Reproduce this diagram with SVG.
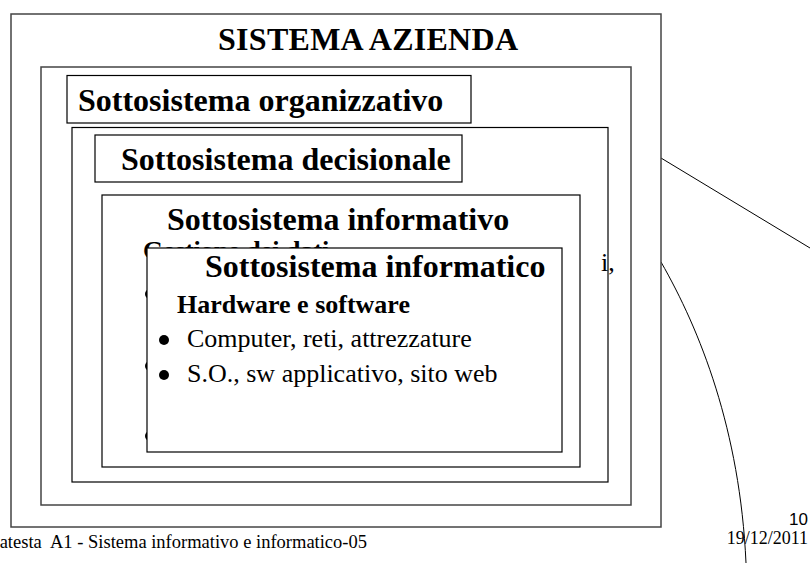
<svg xmlns="http://www.w3.org/2000/svg" width="810" height="563" viewBox="0 0 810 563">
<style>
.frame{fill:#fff;stroke:#444;stroke-width:1.5}
.box{fill:#fff;stroke:#000;stroke-width:1.2}
.h{font-family:"Liberation Serif",serif;font-weight:bold;font-size:32px;fill:#000}
.sub{font-family:"Liberation Serif",serif;font-weight:bold;font-size:26px;fill:#000}
.t{font-family:"Liberation Serif",serif;font-size:26px;fill:#000}
.foot{font-family:"Liberation Serif",serif;font-size:18.5px;fill:#000}
.date{font-family:"Liberation Serif",serif;font-size:18px;fill:#000}
.num{font-family:"Liberation Sans",sans-serif;font-size:17px;fill:#000}
.conn{fill:none;stroke:#000;stroke-width:1}
</style>
<rect width="810" height="563" fill="#fff"/>
<g id="connectors">
<line class="conn" x1="661" y1="158" x2="810" y2="248"/>
<path class="conn" d="M661,262 C700,330 740,430 746,563"/>
</g>
<g id="sistema-azienda">
<rect class="frame" x="11" y="14" width="650" height="513"/>
<text class="h" x="218" y="50" textLength="300">SISTEMA AZIENDA</text>
</g>
<g id="sottosistema-organizzativo">
<rect class="frame" x="41" y="67" width="590" height="438"/>
<rect class="box" x="67" y="75.5" width="404" height="47.5"/>
<text class="h" x="78" y="111">Sottosistema organizzativo</text>
</g>
<g id="sottosistema-decisionale">
<rect class="box" x="72" y="127.5" width="536" height="354.5"/>
<rect class="box" x="95" y="135" width="367" height="47"/>
<text class="h" x="121" y="170">Sottosistema decisionale</text>
</g>
<g id="sottosistema-informativo">
<rect class="box" x="102" y="195" width="478" height="272"/>
<text class="h" x="167" y="230">Sottosistema informativo</text>
<text class="sub" x="143" y="259">Gestione dei dati</text>
<text class="t" x="601" y="271" font-size="28">i,</text>
<circle cx="150" cy="294" r="5"/>
<circle cx="150" cy="366" r="5"/>
<circle cx="150" cy="436" r="5"/>
</g>
<g id="sottosistema-informatico">
<rect class="box" x="147" y="248" width="415" height="204"/>
<text class="h" x="205" y="277">Sottosistema informatico</text>
<text class="sub" x="177" y="313">Hardware e software</text>
<circle cx="164" cy="340" r="5"/>
<text class="t" x="187" y="347">Computer, reti, attrezzature</text>
<circle cx="164" cy="375" r="5"/>
<text class="t" x="187" y="382">S.O., sw applicativo, sito web</text>
</g>
<g id="footer">
<text class="foot" x="367" y="548" text-anchor="end" xml:space="preserve">atesta  A1 - Sistema informativo e informatico-05</text>
<text class="num" x="808" y="525" text-anchor="end">10</text>
<text class="date" x="808" y="544" text-anchor="end">19/12/2011</text>
</g>
</svg>
